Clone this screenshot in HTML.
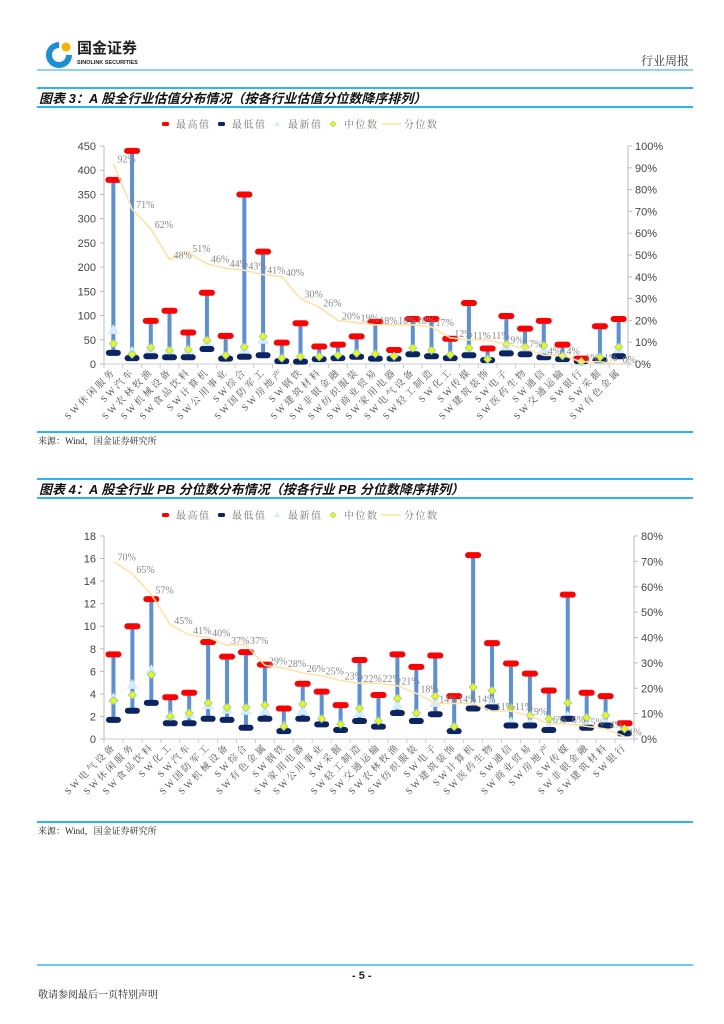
<!DOCTYPE html>
<html><head><meta charset="utf-8">
<style>
body{margin:0;background:#fff;}
#page{position:relative;width:724px;height:1024px;overflow:hidden;font-family:"Liberation Sans","Noto Sans CJK SC",sans-serif;}
.t{position:absolute;white-space:nowrap;}
.hl{position:absolute;left:37px;width:656px;background:#29b6f2;}
.title{font-family:"Liberation Sans","Noto Sans CJK SC",sans-serif;font-style:italic;font-weight:bold;font-size:13px;color:#111;left:39px;}
.src{font-family:"Liberation Serif","Noto Serif CJK SC",serif;font-size:9px;color:#222;left:38px;}
</style></head><body>
<div id="page">
  <svg class="t" style="left:45px;top:40px" width="28" height="30">
    <path d="M14 2 A13 13 0 1 0 27 15 L21 15 A7 7 0 1 1 14 8 Z" fill="#1a8fd8"/>
    <circle cx="21" cy="7" r="4.5" fill="#f5b400"/>
  </svg>
  <div class="t" style="left:77px;top:40px;font-size:15px;font-weight:bold;color:#222;line-height:18px">国金证券</div>
  <div class="t" style="left:77px;top:60px;font-size:5.5px;font-weight:bold;color:#222;line-height:7px">SINOLINK SECURITIES</div>
  <div class="t" style="left:641px;top:52px;font-size:12px;color:#333;font-family:'Liberation Serif','Noto Serif CJK SC',serif">行业周报</div>
  <div class="hl" style="top:69px;height:2px;background:#8fd3f7;left:37px;width:656px"></div>

  <div class="hl" style="top:87px;height:1.5px"></div>
  <div class="t title" style="top:88px">图表 3：A 股全行业估值分布情况（按各行业估值分位数降序排列）</div>
  <div class="hl" style="top:106px;height:1.5px"></div>
  <div class="hl" style="top:431px;height:1.5px"></div>
  <div class="t src" style="top:434px">来源：Wind，国金证券研究所</div>

  <div class="hl" style="top:478px;height:1.5px"></div>
  <div class="t title" style="top:479px">图表 4：A 股全行业 PB 分位数分布情况（按各行业 PB 分位数降序排列）</div>
  <div class="hl" style="top:497px;height:1.5px"></div>
  <div class="hl" style="top:821px;height:1.5px"></div>
  <div class="t src" style="top:824px">来源：Wind，国金证券研究所</div>

  <div class="hl" style="top:964px;height:2px;background:#6ccbf5"></div>
  <div class="t" style="left:352px;top:970px;font-size:11px;font-weight:bold;color:#222">- 5 -</div>
  <div class="t src" style="top:986px;font-size:10px">敬请参阅最后一页特别声明</div>

  <svg id="svg" class="t" style="left:0;top:0" width="724" height="1024"></svg>
</div>
<script>
// ---- Chart 3 data (PE) ----
const c1Cats=["休闲服务","汽车","农林牧渔","机械设备","食品饮料","计算机","公用事业","综合","国防军工","房地产","钢铁","建筑材料","非银金融","纺织服装","商业贸易","家用电器","电气设备","轻工制造","化工","传媒","建筑装饰","电子","医药生物","通信","交通运输","银行","采掘","有色金属"];
const c1Max=[380,440,89,110,65,147,58,350,232,44,84,36,40,57,87,29,93,93,52,126,32,99,73,89,40,11,78,93];
const c1Min=[23,12,16,14,14,31,11,15,18,6,5,10,12,15,11,11,20,16,12,18,8,22,20,14,10,6,8,16];
const c1Latest=[70,25,30,25,28,45,15,30,50,10,12,12,15,20,15,15,28,24,16,28,8,36,30,30,14,5,12,30];
const c1Median=[42,20,34,28,30,49,18,35,57,12,15,15,18,22,21,16,33,28,19,33,10,41,35,38,17,5,14,35];
const c1Pct=[92,71,62,48,51,46,44,43,41,40,30,26,20,19,18,18,18,17,12,11,11,9,7,4,4,1,1,0];
const c1LeftTicks=[0,50,100,150,200,250,300,350,400,450];
const c1RightTicks=[0,10,20,30,40,50,60,70,80,90,100];
// ---- Chart 4 data (PB) ----
const c2Cats=["电气设备","休闲服务","食品饮料","化工","汽车","国防军工","机械设备","综合","有色金属","钢铁","家用电器","公用事业","采掘","轻工制造","交通运输","农林牧渔","纺织服装","电子","建筑装饰","计算机","医药生物","通信","商业贸易","房地产","传媒","非银金融","建筑材料","银行"];
const c2Max=[7.5,10,12.4,3.7,4.1,8.6,7.3,7.7,6.6,2.7,4.9,4.2,3.0,7.0,3.9,7.5,6.4,7.4,3.8,16.3,8.5,6.7,5.8,4.3,12.8,4.1,3.8,1.4];
const c2Min=[1.7,2.5,3.2,1.4,1.4,1.8,1.7,1.0,1.8,0.7,1.8,1.3,0.8,1.6,1.1,2.3,1.6,2.2,0.7,2.7,2.8,1.2,1.2,0.8,1.8,1.0,1.2,0.5];
const c2Latest=[3.6,4.8,6.1,2.0,2.2,3.0,2.6,2.5,2.5,1.1,2.5,1.6,1.2,2.3,1.3,3.0,2.0,3.2,1.0,2.9,3.3,1.5,1.4,1.0,2.0,1.2,1.4,0.7];
const c2Median=[3.4,3.9,5.7,2.0,2.3,3.2,2.8,2.8,3.0,1.1,3.1,1.8,1.3,2.7,1.6,3.6,2.3,3.8,1.1,4.6,4.3,2.8,2.1,1.8,3.2,1.9,2.1,0.9];
const c2Pct=[70,65,57,45,41,40,37,37,29,28,26,25,23,22,22,21,18,14,14,14,11,11,9,6,6,5,4,1];
const c2LeftTicks=[0,2,4,6,8,10,12,14,16,18];
const c2RightTicks=[0,10,20,30,40,50,60,70,80];

const NS="http://www.w3.org/2000/svg";
const svg=document.getElementById('svg');
function mk(tag,attrs,parent,text){const e=document.createElementNS(NS,tag);for(const k in attrs)e.setAttribute(k,attrs[k]);if(text!==undefined)e.textContent=text;(parent||svg).appendChild(e);return e;}
const serif='"Liberation Serif","Noto Serif CJK SC",serif';
const sans='"Liberation Sans","Noto Sans CJK SC",sans-serif';

function legend(g,y){
  const items=[["最高值","max"],["最低值","min"],["最新值","latest"],["中位数","median"],["分位数","pct"]];
  let x=165;
  items.forEach((it,i)=>{
    const lg=mk('g',{},g);
    
    
    if(it[1]==='max')mk('rect',{x:x-3,y:y-2,width:7,height:4,rx:1.5,fill:'#ff0000'},lg);
    if(it[1]==='min')mk('rect',{x:x-3,y:y-2,width:7,height:4,rx:1.5,fill:'#0c2461'},lg);
    if(it[1]==='latest')mk('path',{d:`M${x} ${y-3} L${x+3} ${y+2} L${x-3} ${y+2}Z`,fill:'#d6ecfb'},lg);
    if(it[1]==='median')mk('path',{d:`M${x} ${y-3} L${x+3} ${y} L${x} ${y+3} L${x-3} ${y}Z`,fill:'#f5f500',stroke:'#8fd36a','stroke-width':0.6},lg);
    if(it[1]==='pct')mk('line',{x1:x-7,y1:y,x2:x+12,y2:y,stroke:'#fde7b3','stroke-width':2},lg);
    mk('text',{x:x+(it[1]==='pct'?15:11),y:y+4,'font-size':10,fill:'#777','font-family':serif,'letter-spacing':1.5},lg,it[0]);
    x+=56;
  });
}

function chart(o){
  const g=mk('g',{});
  
  
  const L=o.left,R=o.right,T=o.top,B=o.bottom;
  const n=o.cats.length,bw=(R-L)/n;
  const yS=v=>B-(v/o.lmax)*(B-T);
  const yP=v=>B-(v/o.rmax)*(B-T);
  const xC=i=>L+bw*(i+0.5);
  legend(g,o.legendY);
  const ax=mk('g',{},g);
  
  
  mk('line',{x1:L,y1:T,x2:L,y2:B,stroke:'#bbb'},ax);
  mk('line',{x1:R,y1:T,x2:R,y2:B,stroke:'#bbb'},ax);
  mk('line',{x1:L,y1:B,x2:R,y2:B,stroke:'#ccc'},ax);
  o.lt.forEach(v=>{const y=yS(v);mk('line',{x1:L-4,y1:y,x2:L,y2:y,stroke:'#bbb'},ax);
    const t=mk('text',{x:L-8,y:y+4,'text-anchor':'end','font-size':11,fill:'#444','font-family':sans},ax,String(v));
    });
  o.rt.forEach(v=>{const y=yP(v);mk('line',{x1:R,y1:y,x2:R+4,y2:y,stroke:'#bbb'},ax);
    const t=mk('text',{x:R+7,y:y+4,'font-size':11,fill:'#444','font-family':sans},ax,v+'%');
    });
  for(let i=0;i<=n;i++)mk('line',{x1:L+bw*i,y1:B,x2:L+bw*i,y2:B+4,stroke:'#ccc'},ax);
  o.cats.forEach((c,i)=>{const x=xC(i)+3,y=B+8;
    const t=mk('text',{x:x,y:y,'text-anchor':'end','font-size':9.5,fill:'#555','font-family':serif,'letter-spacing':2.6,transform:`rotate(-45 ${x} ${y})`},ax,'SW'+c);
    });
  o.cats.forEach((c,i)=>{const x=xC(i);
    const bg=mk('g',{},g);
    
    
    mk('line',{x1:x,y1:yS(o.max[i]),x2:x,y2:yS(o.min[i]),stroke:'#5b8fd8','stroke-width':4},bg);
    const yl=yS(o.latest[i]);
    mk('path',{d:`M${x} ${yl-6} L${x+6} ${yl+4} L${x-6} ${yl+4}Z`,fill:'#d6ecfb'},bg);
    mk('rect',{x:x-7.5,y:yS(o.min[i])-3,width:15,height:6,rx:3,fill:'#0c2461'},bg);
    mk('rect',{x:x-8,y:yS(o.max[i])-3,width:16,height:6,rx:3,fill:'#ff0000'},bg);
    const ym=yS(o.median[i]);
    mk('path',{d:`M${x} ${ym-4} L${x+4} ${ym} L${x} ${ym+4} L${x-4} ${ym}Z`,fill:'#f5f500',stroke:'#7fd0c0','stroke-width':0.8},bg);
  });
  let d='';o.pct.forEach((v,i)=>{d+=(i?'L':'M')+xC(i).toFixed(1)+' '+yP(v).toFixed(1);});
  const pl=mk('path',{d:d,fill:'none',stroke:'#fde3a8','stroke-width':1.6},g);
  
  o.pct.forEach((v,i)=>{
    const t=mk('text',{x:xC(i)+4,y:yP(v)-1,'font-size':10,fill:'#888','font-family':serif},g,v+'%');
    });
}
chart({name:'chart3-pe-distribution',cats:c1Cats,max:c1Max,min:c1Min,latest:c1Latest,median:c1Median,pct:c1Pct,lt:c1LeftTicks,rt:c1RightTicks,lmax:450,rmax:100,left:104,right:628,top:146,bottom:364,legendY:124});
chart({name:'chart4-pb-distribution',cats:c2Cats,max:c2Max,min:c2Min,latest:c2Latest,median:c2Median,pct:c2Pct,lt:c2LeftTicks,rt:c2RightTicks,lmax:18,rmax:80,left:104,right:634,top:536,bottom:739,legendY:515});
</script>
</body></html>
